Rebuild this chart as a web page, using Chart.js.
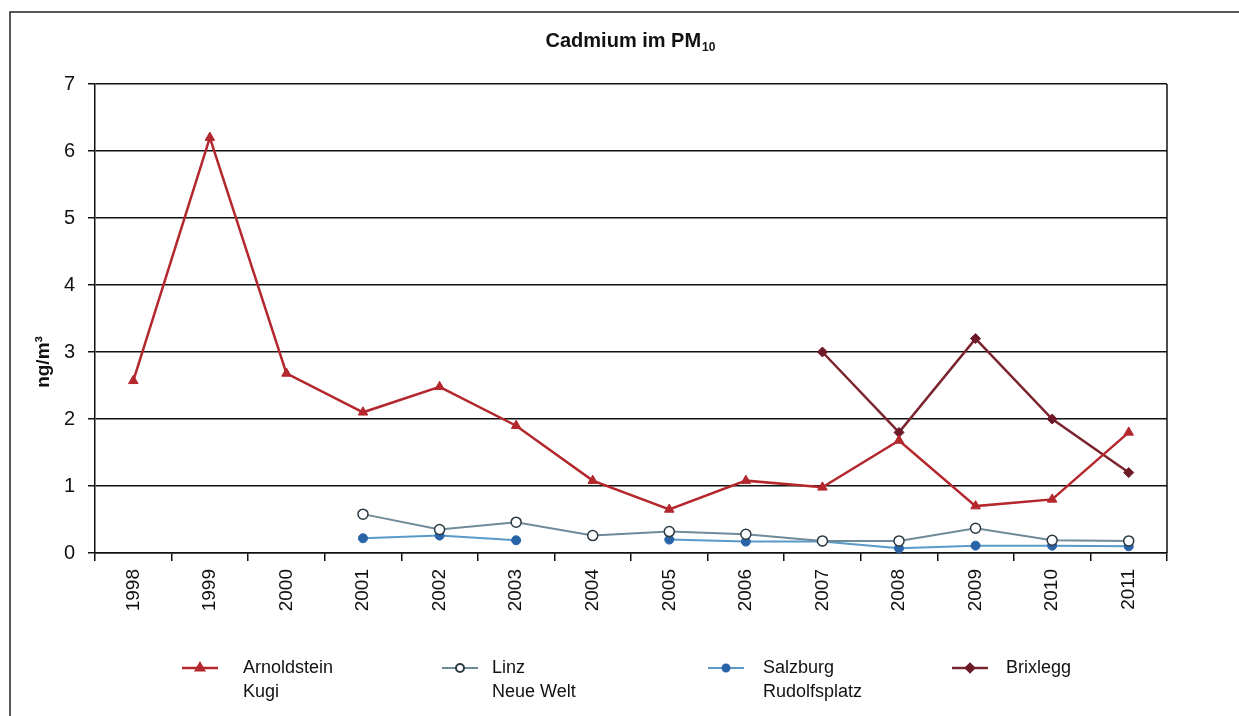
<!DOCTYPE html>
<html>
<head>
<meta charset="utf-8">
<script src="https://cdn.jsdelivr.net/npm/chart.js@4.4.0/dist/chart.umd.min.js"></script>
<style>
  html, body { margin: 0; padding: 0; background: #fff; }
  #wrap { width: 1239px; height: 716px; position: relative; }
</style>
</head>
<body>
<div id="wrap"><canvas id="chart"></canvas></div>
<script>
const years = ['1998', '1999', '2000', '2001', '2002', '2003', '2004', '2005', '2006', '2007', '2008', '2009', '2010', '2011'];
const arnoldstein = [2.57, 6.2, 2.68, 2.1, 2.48, 1.9, 1.08, 0.65, 1.08, 0.98, 1.68, 0.7, 0.8, 1.8];
const linz = [null, null, null, 0.58, 0.35, 0.46, 0.26, 0.32, 0.28, 0.18, 0.18, 0.37, 0.19, 0.18];
const salzburg = [null, null, null, 0.22, 0.26, 0.19, null, 0.2, 0.17, 0.17, 0.07, 0.11, 0.11, 0.1];
const brixlegg = [null, null, null, null, null, null, null, null, null, 3.0, 1.8, 3.2, 2.0, 1.2];
const legendLabels = [['Arnoldstein', 'Kugi'], ['Linz', 'Neue Welt'], ['Salzburg', 'Rudolfsplatz'], ['Brixlegg']];
const yMin = 0, yMax = 7, yStep = 1;

const FONT = "'Liberation Sans', Arial, sans-serif";

// frame, titles and legend drawn by hand
const decor = {
  id: 'decor',
  beforeDraw(chart) {
    const ctx = chart.ctx;
    ctx.save();
    ctx.strokeStyle = '#222';
    ctx.lineWidth = 1.5;
    ctx.beginPath();
    ctx.moveTo(10, 716);
    ctx.lineTo(10, 12);
    ctx.lineTo(1239, 12);
    ctx.stroke();
    ctx.restore();
  },
  afterDraw(chart) {
    const ctx = chart.ctx;
    const area = chart.chartArea;
    ctx.save();
    // right border of plot
    ctx.strokeStyle = '#111';
    ctx.lineWidth = 1.5;
    ctx.beginPath();
    ctx.moveTo(area.right, area.top);
    ctx.lineTo(area.right, area.bottom);
    ctx.stroke();

    // title with subscript
    ctx.fillStyle = '#111';
    ctx.textBaseline = 'alphabetic';
    ctx.font = 'bold 20px ' + FONT;
    const main = 'Cadmium im PM';
    const w1 = ctx.measureText(main).width;
    ctx.font = 'bold 12px ' + FONT;
    const w2 = ctx.measureText('10').width;
    let x = 630 - (w1 + w2) / 2;
    ctx.font = 'bold 20px ' + FONT;
    ctx.fillText(main, x, 47);
    ctx.font = 'bold 12px ' + FONT;
    ctx.fillText('10', x + w1 + 1, 51);

    // y axis title
    ctx.save();
    ctx.translate(44, 362);
    ctx.rotate(-Math.PI / 2);
    ctx.font = 'bold 19px ' + FONT;
    ctx.textAlign = 'center';
    ctx.textBaseline = 'middle';
    ctx.fillText('ng/m³', 0, 0);
    ctx.restore();

    // legend
    const markX = [182, 442, 708, 952];
    const textX = [243, 492, 763, 1006];
    ctx.font = '18px ' + FONT;
    chart.data.datasets.forEach((ds, i) => {
      const lx = markX[i], ly = 668;
      ctx.strokeStyle = ds.borderColor;
      ctx.lineWidth = ds.borderWidth;
      ctx.beginPath();
      ctx.moveTo(lx, ly);
      ctx.lineTo(lx + 36, ly);
      ctx.stroke();
      ctx.fillStyle = ds.pointBackgroundColor;
      ctx.strokeStyle = ds.pointBorderColor;
      Chart.helpers.drawPoint(ctx, {
        pointStyle: ds.pointStyle, radius: ds.pointRadius - 1, rotation: 0, borderWidth: ds.pointBorderWidth
      }, lx + 18, ly);
      ctx.fillStyle = '#111';
      ctx.textBaseline = 'middle';
      legendLabels[i].forEach((t, j) => ctx.fillText(t, textX[i], ly + j * 24));
    });
    ctx.restore();
  }
};

new Chart(document.getElementById('chart'), {
  type: 'line',
  data: {
    labels: years,
    datasets: [
      {
        label: 'Arnoldstein Kugi', data: arnoldstein,
        borderColor: '#b3272d', borderWidth: 2.5,
        pointStyle: 'triangle', pointRadius: 5.5,
        pointBackgroundColor: '#b3272d', pointBorderColor: '#b3272d', pointBorderWidth: 1
      },
      {
        label: 'Linz Neue Welt', data: linz,
        borderColor: '#6f8a98', borderWidth: 2,
        pointStyle: 'circle', pointRadius: 5,
        pointBackgroundColor: '#ffffff', pointBorderColor: '#2b3a40', pointBorderWidth: 1.5
      },
      {
        label: 'Salzburg Rudolfsplatz', data: salzburg,
        borderColor: '#5a9ac8', borderWidth: 2,
        pointStyle: 'circle', pointRadius: 4.5,
        pointBackgroundColor: '#2a64a8', pointBorderColor: '#2a64a8', pointBorderWidth: 1
      },
      {
        label: 'Brixlegg', data: brixlegg,
        borderColor: '#7a2430', borderWidth: 2.5,
        pointStyle: 'rectRot', pointRadius: 5,
        pointBackgroundColor: '#6e1a28', pointBorderColor: '#6e1a28', pointBorderWidth: 1
      }
    ]
  },
  options: {
    responsive: true,
    maintainAspectRatio: false,
    animation: false,
    spanGaps: false,
    layout: { padding: { top: 84, left: 10, right: 72, bottom: 76 } },
    plugins: {
      legend: { display: false },
      title: { display: false },
      tooltip: { enabled: false }
    },
    scales: {
      x: {
        offset: true,
        grid: { display: true, drawOnChartArea: false, offset: true, color: '#111', lineWidth: 1.5, tickLength: 8 },
        border: { color: '#111', width: 1.5 },
        ticks: { color: '#111', font: { family: FONT, size: 19 }, minRotation: 90, maxRotation: 90, padding: 8 },
        afterFit: s => { s.height = 87; }
      },
      y: {
        min: yMin, max: yMax,
        grid: { color: '#111', lineWidth: 1.5, tickLength: 7 },
        border: { color: '#111', width: 1.5 },
        ticks: { stepSize: yStep, color: '#111', font: { family: FONT, size: 20 }, padding: 13 },
        afterFit: s => { s.width = 85; }
      }
    }
  },
  plugins: [decor]
});
</script>
</body>
</html>
